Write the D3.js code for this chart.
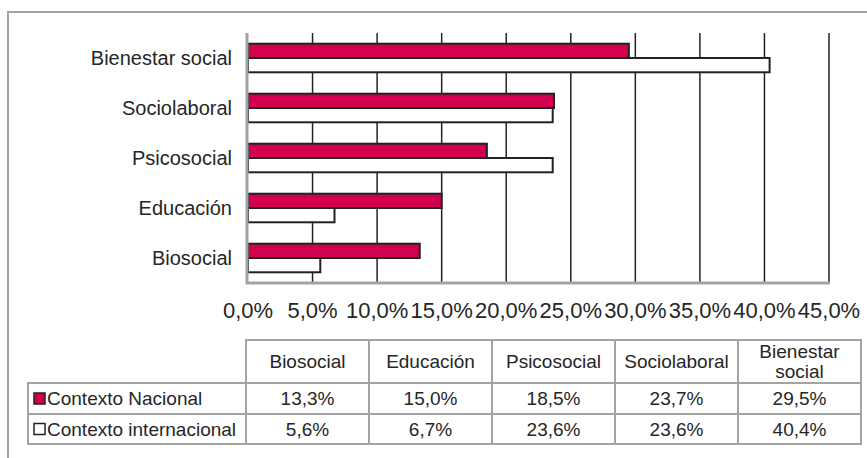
<!DOCTYPE html>
<html>
<head>
<meta charset="utf-8">
<script src="https://cdn.jsdelivr.net/npm/d3@7"></script>
<style>
  body { margin: 0; background: #fff; }
  text { font-family: "Liberation Sans", Arial, sans-serif; fill: #262626; }
</style>
</head>
<body>
<div id="chart"></div>
<script>
// data
var categories = ["Biosocial", "Educación", "Psicosocial", "Sociolaboral", "Bienestar social"];
var headerLines = [["Biosocial"], ["Educación"], ["Psicosocial"], ["Sociolaboral"], ["Bienestar", "social"]];
var seriesNames = ["Contexto Nacional", "Contexto internacional"];
var nacional = [13.3, 15.0, 18.5, 23.7, 29.5];
var internacional = [5.6, 6.7, 23.6, 23.6, 40.4];
var tickValues = [0, 5, 10, 15, 20, 25, 30, 35, 40, 45];

var svgWidth = 867, svgHeight = 458;
var red = "#d4004f";
var frameGray = "#a3a3a3";

var locale = d3.formatLocale({decimal: ",", thousands: ".", grouping: [3], currency: ["", "€"]});
var fmt = function(v) { return locale.format(".1f")(v) + "%"; };

var svg = d3.select("#chart").append("svg")
  .attr("width", svgWidth)
  .attr("height", svgHeight);

// outer frame (top + left only visible)
svg.append("path")
  .attr("d", "M8,470 L8,12 L880,12")
  .attr("fill", "none")
  .attr("stroke", frameGray)
  .attr("stroke-width", 2);

// scales
var plot = {left: 248, right: 829, top: 33, bottom: 283};
var xScale = d3.scaleLinear().domain([0, 45]).range([plot.left, plot.right]);
var yScale = d3.scaleBand()
  .domain(categories.slice().reverse())
  .range([plot.top, plot.bottom]);
var ySub = d3.scaleBand()
  .domain(seriesNames)
  .range([0, yScale.bandwidth()])
  .paddingInner(0)
  .paddingOuter(0.75);

// gridlines
svg.append("g").selectAll("line")
  .data(tickValues.filter(function(t) { return t > 0; }))
  .enter().append("line")
  .attr("x1", d => xScale(d)).attr("x2", d => xScale(d))
  .attr("y1", plot.top).attr("y2", plot.bottom)
  .attr("stroke", "#222")
  .attr("stroke-width", 1.5);

// bars
var rows = categories.map(function(c, i) {
  return {cat: c, values: [
    {name: seriesNames[0], v: nacional[i]},
    {name: seriesNames[1], v: internacional[i]}
  ]};
});
var groups = svg.append("g").selectAll("g")
  .data(rows)
  .enter().append("g")
  .attr("transform", d => `translate(0, ${yScale(d.cat)})`);
groups.selectAll("rect")
  .data(d => d.values)
  .enter().append("rect")
  .attr("x", xScale(0))
  .attr("y", d => ySub(d.name))
  .attr("width", d => xScale(d.v) - xScale(0))
  .attr("height", ySub.bandwidth())
  .attr("fill", (d, i) => i === 0 ? red : "#fff")
  .attr("stroke", "#222")
  .attr("stroke-width", 2);

// axis lines
svg.append("line")
  .attr("x1", plot.left - 1).attr("x2", plot.left - 1)
  .attr("y1", plot.top).attr("y2", plot.bottom + 1)
  .attr("stroke", frameGray).attr("stroke-width", 3);
svg.append("line")
  .attr("x1", plot.left - 2).attr("x2", plot.right + 1)
  .attr("y1", plot.bottom).attr("y2", plot.bottom)
  .attr("stroke", frameGray).attr("stroke-width", 3);

// category labels
svg.append("g").selectAll("text")
  .data(categories)
  .enter().append("text")
  .attr("x", 232)
  .attr("y", d => yScale(d) + yScale.bandwidth() / 2)
  .attr("dy", "0.35em")
  .attr("text-anchor", "end")
  .attr("font-size", 20)
  .text(d => d);

// x tick labels
svg.append("g").selectAll("text")
  .data(tickValues)
  .enter().append("text")
  .attr("x", d => xScale(d))
  .attr("y", 318)
  .attr("text-anchor", "middle")
  .attr("font-size", 22)
  .text(d => fmt(d));

// data table
var tbl = {left: 246, right: 861, legendLeft: 28, top: 340, head: 383, r1: 414, bottom: 444};
var colScale = d3.scaleBand().domain(categories).range([tbl.left, tbl.right]);
var tg = svg.append("g");
var lineStyle = function(sel) {
  return sel.attr("stroke", frameGray).attr("stroke-width", 2).attr("fill", "none");
};
// header box
tg.append("rect").attr("x", tbl.left).attr("y", tbl.top)
  .attr("width", tbl.right - tbl.left).attr("height", tbl.bottom - tbl.top).call(lineStyle);
tg.append("rect").attr("x", tbl.legendLeft).attr("y", tbl.head)
  .attr("width", tbl.right - tbl.legendLeft).attr("height", tbl.bottom - tbl.head).call(lineStyle);
tg.append("line").attr("x1", tbl.legendLeft).attr("x2", tbl.right)
  .attr("y1", tbl.r1).attr("y2", tbl.r1).call(lineStyle);
tg.selectAll("line.col")
  .data(categories)
  .enter().append("line")
  .attr("class", "col")
  .attr("x1", d => colScale(d)).attr("x2", d => colScale(d))
  .attr("y1", tbl.top).attr("y2", tbl.bottom)
  .call(lineStyle);

// header text
categories.forEach(function(c, i) {
  var lines = headerLines[i];
  var cy = (tbl.top + tbl.head) / 2;
  lines.forEach(function(l, j) {
    tg.append("text")
      .attr("x", colScale(c) + colScale.bandwidth() / 2)
      .attr("y", cy + (j - (lines.length - 1) / 2) * 20)
      .attr("dy", "0.35em")
      .attr("text-anchor", "middle")
      .attr("font-size", 19)
      .text(l);
  });
});

// rows
var tableRows = [
  {name: seriesNames[0], vals: nacional, fill: red, y0: tbl.head, y1: tbl.r1},
  {name: seriesNames[1], vals: internacional, fill: "#fff", y0: tbl.r1, y1: tbl.bottom}
];
tableRows.forEach(function(r) {
  var cy = (r.y0 + r.y1) / 2;
  tg.append("rect")
    .attr("x", 34).attr("y", cy - 5.5)
    .attr("width", 11).attr("height", 11)
    .attr("fill", r.fill).attr("stroke", "#222").attr("stroke-width", 1.5);
  tg.append("text")
    .attr("x", 47).attr("y", cy).attr("dy", "0.35em")
    .attr("font-size", 19)
    .text(r.name);
  r.vals.forEach(function(v, i) {
    tg.append("text")
      .attr("x", colScale(categories[i]) + colScale.bandwidth() / 2)
      .attr("y", cy).attr("dy", "0.35em")
      .attr("text-anchor", "middle")
      .attr("font-size", 19)
      .text(fmt(v));
  });
});
</script>
</body>
</html>
